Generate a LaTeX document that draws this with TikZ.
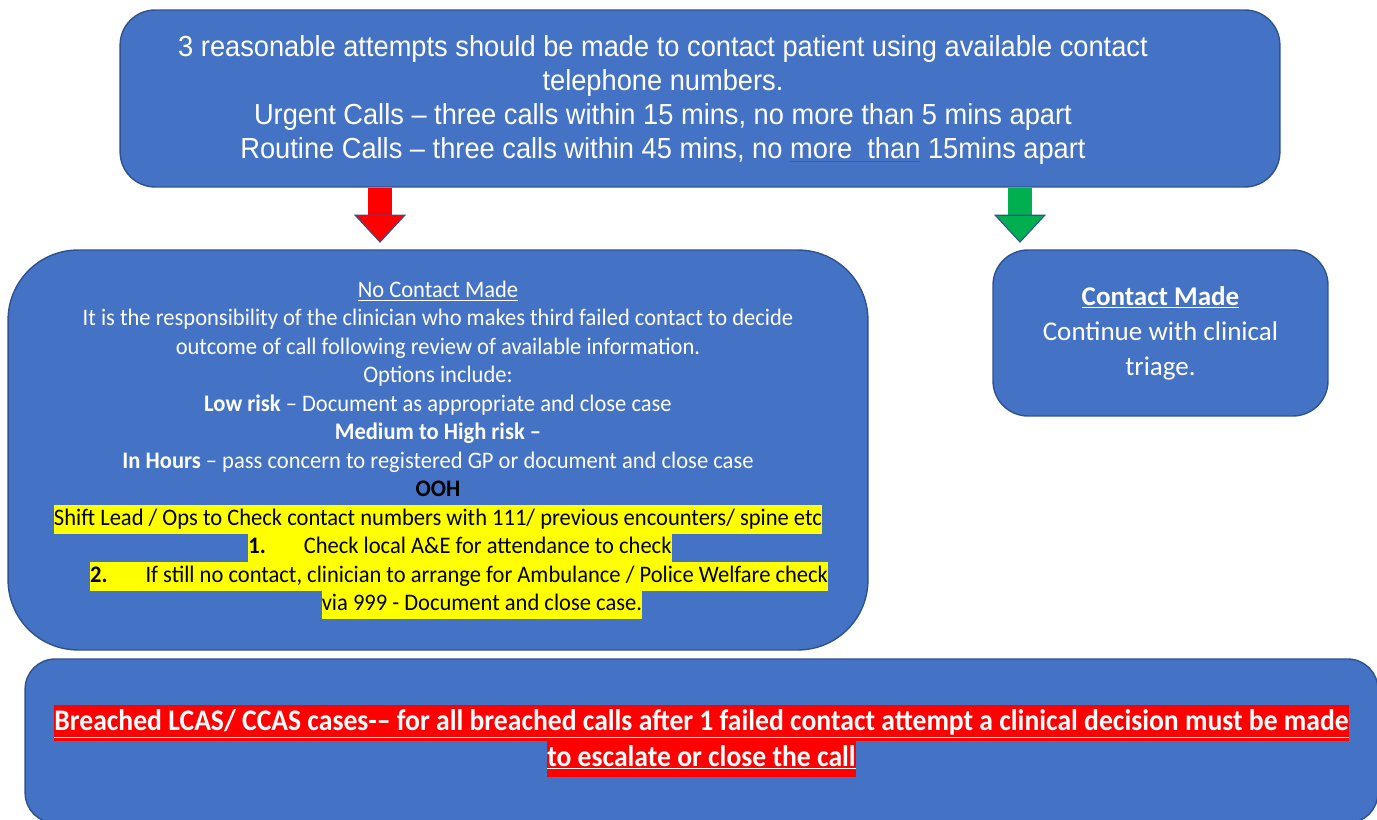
\documentclass[tikz,border=0pt]{standalone}
\usepackage{fontspec}
\usepackage{xcolor}
\usepackage{tikz}
\usetikzlibrary{arrows.meta,positioning}

\setmainfont{Carlito}
\newfontfamily\arialcond[FakeStretch=0.94]{Liberation Sans}
\newfontfamily\calcond[FakeStretch=0.95]{Carlito}
\newfontfamily\calbold[FakeStretch=0.925]{Carlito}
\newfontfamily\calibri{Carlito}

\definecolor{boxblue}{HTML}{4472C4}
\definecolor{edgeblue}{HTML}{2F528F}
\definecolor{arrowred}{HTML}{FF0000}
\definecolor{arrowgreen}{HTML}{00B050}
\definecolor{hlyellow}{HTML}{FFFF00}
\definecolor{ulblue}{HTML}{2E5BD8}

\newcommand{\hlyel}[1]{{\setlength{\fboxsep}{0pt}\colorbox{hlyellow}{\strut\color{black}#1}}}
\newcommand{\hlred}[1]{{\setlength{\fboxsep}{0pt}\colorbox{arrowred}{\strut\underline{#1}}}}

\begin{document}
\begin{tikzpicture}[
    x=0.02cm, y=-0.02cm,
    bluebox/.style={rectangle, draw=edgeblue, line width=0.8pt, fill=boxblue, text=white, align=center, inner sep=0pt},
    blockarrow/.style={line width=13.6pt, draw=#1, -{Triangle[width=29.5pt,length=16pt,line width=0.6pt,color=edgeblue,fill=#1]}, shorten >=0.13cm}
]
\clip (0,0) rectangle (1377,820);

\node (attempts) [bluebox, minimum width=23.2cm, minimum height=3.54cm, rounded corners=0.7cm] at (700,98.5) {};
\node (attemptstext) [text=white, align=center, font=\arialcond\fontsize{16.5pt}{19.3pt}\selectfont] at (663,100)
  {3 reasonable attempts should be made to contact patient using available contact\\
   telephone numbers.\\
   Urgent Calls – three calls within 15 mins, no more than 5 mins apart\\
   Routine Calls – three calls within 45 mins, no {\color{ulblue}\underline{\textcolor{white}{more~~than}}} 15mins apart};

\node (nocontact) [bluebox, minimum width=17.2cm, minimum height=8cm, rounded corners=1.4cm, font=\calcond\fontsize{13.5pt}{16.2pt}\selectfont] at (438,450)
  {\underline{No Contact Made}\\
   It is the responsibility of the clinician who makes third failed contact to decide\\
   outcome of call following review of available information.\\
   Options include:\\
   \textbf{Low risk} – Document as appropriate and close case\\
   \textbf{Medium to High risk –}\\
   \textbf{In Hours} – pass concern to registered GP or document and close case\\
   \textcolor{black}{\textbf{OOH}}\\
   \hlyel{Shift Lead / Ops to Check contact numbers with 111/ previous encounters/ spine etc}\\
   \hspace*{25pt}\hlyel{\textbf{1.}\hspace{1.6em}Check local A\&E for attendance to check}\\
   \hspace*{24pt}\hlyel{\textbf{2.}\hspace{1.6em}If still no contact, clinician to arrange for Ambulance / Police Welfare check}\\
   \hspace*{50pt}\hlyel{via 999 - Document and close case.}};

\node (contactmade) [bluebox, minimum width=6.7cm, minimum height=3.32cm, rounded corners=0.7cm, font=\calibri\fontsize{15.4pt}{20pt}\selectfont] at (1160.5,333)
  {\textbf{\underline{Contact Made}}\\
   Continue with clinical\\
   triage.};

\node (breached) [bluebox, minimum width=27.06cm, minimum height=3.28cm, rounded corners=0.6cm, font=\calbold\bfseries\fontsize{17pt}{20.4pt}\selectfont] at (701.5,741)
  {\hlred{Breached LCAS/ CCAS cases-– for all breached calls after 1 failed contact attempt a clinical decision must be made}\\
   \hlred{to escalate or close the call}};

\coordinate (redx) at (380,0);
\coordinate (greenx) at (1020,0);
\draw [blockarrow=arrowred] (attempts.south -| redx) -- (nocontact.north -| redx);
\draw [blockarrow=arrowgreen] (attempts.south -| greenx) -- (contactmade.north -| greenx);

\end{tikzpicture}
\end{document}
